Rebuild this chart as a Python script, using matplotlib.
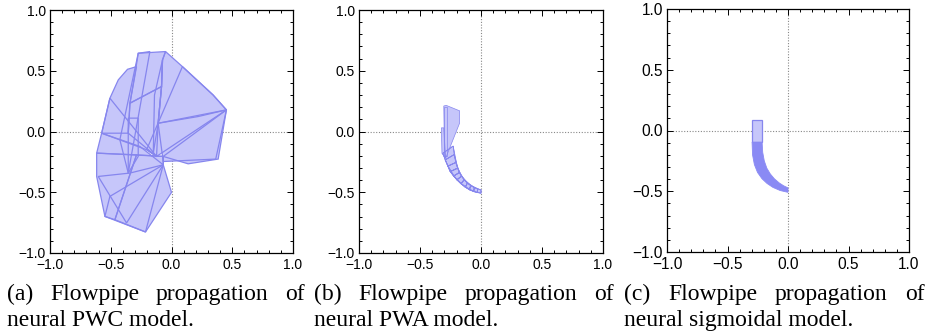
import matplotlib
matplotlib.use("Agg")
import matplotlib.pyplot as plt
from matplotlib.patches import Polygon
from matplotlib.ticker import MultipleLocator

plt.rcParams["font.family"] = "Liberation Sans"

# ---- data ----

# (a) reach sets of the neural PWC model, one polygon per set
pwcSets = [
    [(-0.274, 0.644), (-0.049, 0.658), (-0.074, 0.589), (-0.082, 0.370), (-0.342, 0.233), (-0.293, 0.521)],
    [(-0.049, 0.658), (0.090, 0.534), (0.342, 0.301), (0.452, 0.178), (0.219, 0.123), (-0.110, 0.068),
     (-0.082, 0.370), (-0.074, 0.589)],
    [(-0.342, 0.233), (-0.082, 0.370), (-0.110, 0.068), (-0.123, -0.205), (-0.356, -0.014)],
    [(0.090, 0.534), (0.342, 0.301), (0.452, 0.178), (-0.123, -0.205), (-0.205, -0.150)],
    [(-0.110, 0.068), (0.452, 0.178), (0.364, -0.227), (-0.068, -0.247)],
    [(0.452, 0.178), (0.384, -0.227), (0.137, -0.266), (-0.068, -0.205)],
    [(-0.288, 0.534), (-0.362, 0.512), (-0.438, 0.425), (-0.507, 0.274), (-0.575, -0.014),
     (-0.356, -0.014), (-0.342, 0.233)],
    [(-0.507, 0.274), (-0.123, -0.205), (-0.205, -0.150), (-0.575, -0.014)],
    [(-0.575, -0.014), (-0.616, -0.178), (-0.068, -0.205), (-0.068, -0.274), (-0.260, -0.123)],
    [(-0.616, -0.178), (-0.616, -0.370), (-0.548, -0.699), (-0.466, -0.726), (-0.288, -0.192)],
    [(-0.288, -0.192), (-0.068, -0.205), (-0.068, -0.274), (0.0, -0.501), (-0.214, -0.827), (-0.466, -0.726)],
    [(-0.603, -0.370), (-0.370, -0.753), (-0.068, -0.274), (-0.342, -0.342)],
    [(-0.548, -0.699), (-0.507, -0.534), (-0.068, -0.274), (-0.214, -0.827)],
    [(-0.425, -0.068), (-0.274, 0.644), (-0.178, 0.658), (-0.356, -0.342)],
    [(-0.356, 0.110), (-0.274, 0.110), (-0.274, -0.205), (-0.356, -0.342)],
    [(-0.110, 0.068), (-0.082, 0.370), (-0.074, 0.589), (-0.140, 0.300), (-0.150, -0.180)],
]

# (b) neural PWA model: initial boxes and the crescent bounds
pwaSets = [
    [(-0.305, 0.210), (-0.285, 0.215), (-0.175, 0.170), (-0.175, 0.070), (-0.270, -0.170),
     (-0.290, -0.220), (-0.300, -0.150)],
    [(-0.325, 0.030), (-0.305, 0.030), (-0.290, -0.220), (-0.320, -0.180)],
    [(-0.300, 0.200), (-0.280, 0.200), (-0.280, -0.200), (-0.300, -0.200)],
]
pwaOuter = [(-0.313, -0.179), (-0.294, -0.234), (-0.272, -0.285), (-0.253, -0.330), (-0.225, -0.367),
            (-0.198, -0.398), (-0.165, -0.430), (-0.129, -0.459), (-0.095, -0.480),
            (-0.060, -0.495), (-0.030, -0.503), (0.0, -0.508)]
pwaInner = [(-0.228, -0.120), (-0.220, -0.190), (-0.207, -0.255), (-0.192, -0.302), (-0.178, -0.338),
            (-0.160, -0.368), (-0.138, -0.398), (-0.112, -0.425), (-0.085, -0.445),
            (-0.055, -0.462), (-0.028, -0.473), (0.0, -0.481)]

# (c) neural sigmoidal model
sigBox = [(-0.297, 0.083), (-0.214, 0.083), (-0.214, -0.096), (-0.297, -0.096)]
sigOuter = [(-0.297, -0.096), (-0.293, -0.200), (-0.278, -0.280), (-0.252, -0.345), (-0.215, -0.397),
            (-0.173, -0.436), (-0.125, -0.468), (-0.065, -0.494), (0.0, -0.509)]
sigInner = [(-0.214, -0.096), (-0.209, -0.180), (-0.196, -0.250), (-0.175, -0.310), (-0.146, -0.358),
            (-0.112, -0.398), (-0.072, -0.432), (-0.036, -0.455), (0.0, -0.472)]

captions = [
    ("(a) Flowpipe propagation of", "neural PWC model."),
    ("(b) Flowpipe propagation of", "neural PWA model."),
    ("(c) Flowpipe propagation of", "neural sigmoidal model."),
]

# ---- style ----
fillColor = "#c6c6fa"
edgeColor = "#8686ee"
darkColor = "#8a8af4"

W, H = 935, 334
fig = plt.figure(figsize=(W / 100, H / 100), dpi=100)

axBoxes = [(50, 10, 243, 243), (359, 10, 244, 243), (667, 9, 242, 243)]
tickSizes = [10.0, 10.0, 11.2]
axes = []
for (x, y, w, h), fs in zip(axBoxes, tickSizes):
    ax = fig.add_axes([x / W, 1 - (y + h) / H, w / W, h / H])
    ax.set_xlim(-1, 1)
    ax.set_ylim(-1, 1)
    ax.xaxis.set_major_locator(MultipleLocator(0.5))
    ax.yaxis.set_major_locator(MultipleLocator(0.5))
    ax.xaxis.set_minor_locator(MultipleLocator(0.1))
    ax.yaxis.set_minor_locator(MultipleLocator(0.1))
    ax.tick_params(which="both", direction="in", top=True, right=True, width=0.7)
    ax.tick_params(which="major", length=4.5, labelsize=fs)
    ax.tick_params(axis="x", which="major", pad=3.5)
    ax.tick_params(axis="y", which="major", pad=3)
    ax.tick_params(which="minor", length=2)
    for s in ax.spines.values():
        s.set_linewidth(0.9)
    ax.axhline(0, color="#888888", lw=0.8, ls=(0, (1, 1.5)), zorder=1)
    ax.axvline(0, color="#888888", lw=0.8, ls=(0, (1, 1.5)), zorder=1)
    axes.append(ax)

ax1, ax2, ax3 = axes

# (a) fills first, then all outlines on top
for poly in pwcSets:
    ax1.add_patch(Polygon(poly, closed=True, facecolor=fillColor, edgecolor="none", zorder=2))
for poly in pwcSets:
    ax1.add_patch(Polygon(poly, closed=True, facecolor="none", edgecolor=edgeColor, lw=0.9, zorder=3))

# (b) overlapping bands along the crescent
bandPolys = []
for step in (1, 2, 3):
    for i in range(len(pwaOuter) - step):
        bandPolys.append([pwaOuter[i], pwaOuter[i + step], pwaInner[i + step], pwaInner[i]])
for poly in pwaSets + bandPolys:
    ax2.add_patch(Polygon(poly, closed=True, facecolor=fillColor, edgecolor="none", zorder=2))
for poly in pwaSets + bandPolys:
    ax2.add_patch(Polygon(poly, closed=True, facecolor="none", edgecolor=edgeColor, lw=0.5, zorder=3))

# (c)
ax3.add_patch(Polygon(sigBox, closed=True, facecolor=fillColor, edgecolor=edgeColor, lw=0.9, zorder=2))
ax3.add_patch(Polygon(sigOuter + sigInner[::-1], closed=True, facecolor=darkColor,
                      edgecolor=darkColor, lw=0.6, zorder=2))

# captions, first line justified between the given pixel bounds
capBounds = [(7, 305), (314, 614), (624, 925)]
line1Base, line2Base = 300, 326
renderer = fig.canvas.get_renderer()
for (first, second), (left, right) in zip(captions, capBounds):
    words = first.split()
    texts = [fig.text(0, 1 - line1Base / H, w_, family="Liberation Serif", fontsize=17,
                      va="baseline", ha="left") for w_ in words]
    widths = [t.get_window_extent(renderer).width for t in texts]
    gap = (right - left - sum(widths)) / (len(words) - 1)
    xpos = left
    for t, wd in zip(texts, widths):
        t.set_x(xpos / W)
        xpos += wd + gap
    fig.text(left / W, 1 - line2Base / H, second, family="Liberation Serif", fontsize=17,
             va="baseline", ha="left")

fig.savefig("out.png", dpi=100)
